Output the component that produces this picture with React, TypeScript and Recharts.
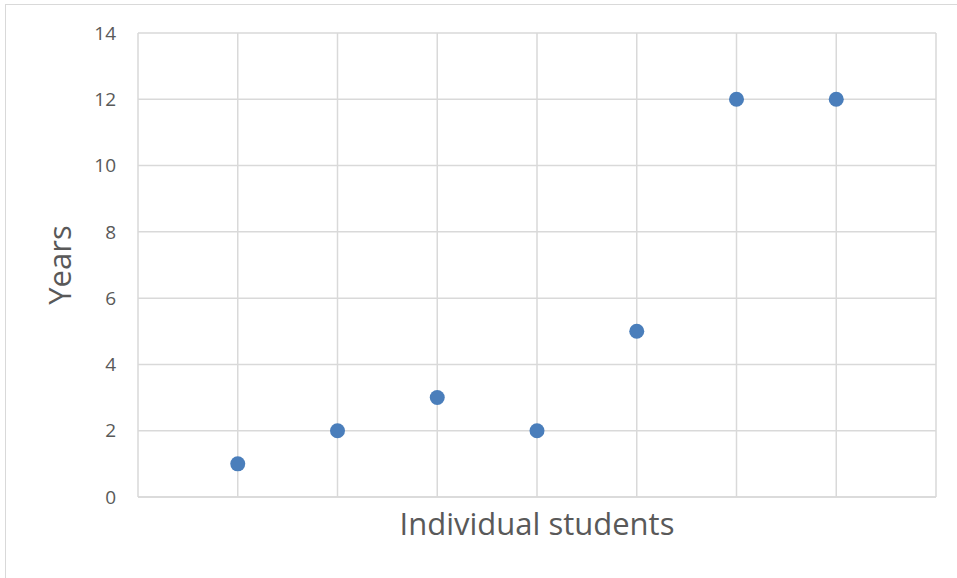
import React from "react";
import { ScatterChart, Scatter, XAxis, YAxis, CartesianGrid, Label } from "recharts";

const studentIndex = [1, 2, 3, 4, 5, 6, 7];
const years = [1, 2, 3, 2, 5, 12, 12];
const xTicks = [0, 1, 2, 3, 4, 5, 6, 7, 8];
const yTicks = [0, 2, 4, 6, 8, 10, 12, 14];

const data = studentIndex.map((x, i) => ({ x, y: years[i] }));

const FONT = "'Open Sans', 'Noto Sans', sans-serif";
const TEXT = "#595959";
const GRID = "#d9d9d9";
const DOT = "#4a7ebb";

const Dot = (props: any) => {
  const { cx, cy } = props;
  if (cx == null || cy == null) return null;
  return <circle cx={cx} cy={cy} r={7.5} fill={DOT} />;
};

const NoTick = () => <g />;

export default function App() {
  return (
    <div style={{ position: "absolute", left: 0, top: 0, width: 957, height: 578, overflow: "hidden", background: "#fff" }}>
      <div style={{ position: "absolute", left: 5, top: 4, width: 980, height: 600, border: "1.5px solid #d9d9d9", boxSizing: "border-box" }} />
      <div style={{ position: "absolute", left: 0, top: 0 }}>
        <ScatterChart width={957} height={578} margin={{ top: 33, right: 21, bottom: 51, left: 78 }}>
          <CartesianGrid stroke={GRID} strokeWidth={1.5} />
          <XAxis
            type="number"
            dataKey="x"
            domain={[0, 8]}
            ticks={xTicks}
            tick={NoTick}
            tickLine={false}
            axisLine={{ stroke: GRID, strokeWidth: 1.5 }}
            height={30}
            allowDataOverflow
          >
            <Label value="Individual students" position="insideBottom" offset={-8} fill={TEXT} fontSize={31} fontFamily={FONT} />
          </XAxis>
          <YAxis
            type="number"
            dataKey="y"
            domain={[0, 14]}
            ticks={yTicks}
            width={60}
            tickLine={false}
            axisLine={false}
            tickMargin={16}
            tick={{ fill: TEXT, fontSize: 19, fontFamily: FONT }}
            allowDataOverflow
          >
            <Label value="Years" angle={-90} position="center" dx={-48} fill={TEXT} fontSize={31} fontFamily={FONT} />
          </YAxis>
          <Scatter data={data} shape={<Dot />} isAnimationActive={false} />
        </ScatterChart>
      </div>
    </div>
  );
}
